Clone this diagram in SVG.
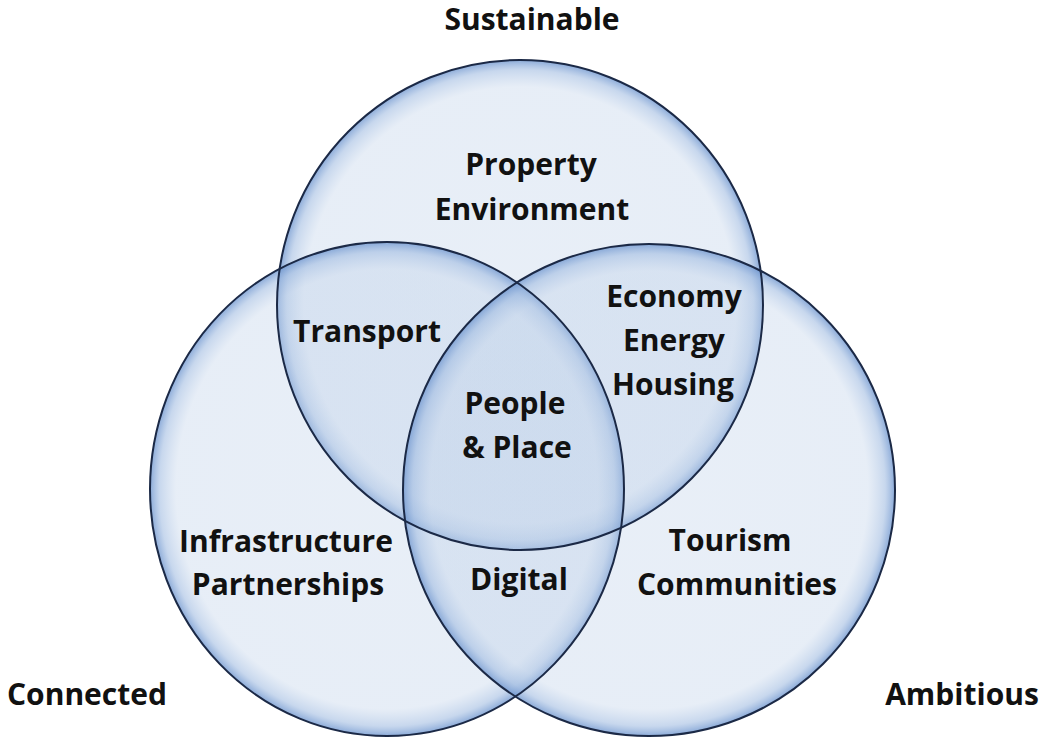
<svg xmlns="http://www.w3.org/2000/svg" width="1046" height="738" viewBox="0 0 1046 738">
  <defs>
    <radialGradient id="glow" cx="50%" cy="50%" r="50%">
      <stop offset="0" stop-color="#bccfe8" stop-opacity="0.34"/>
      <stop offset="0.89" stop-color="#bccfe8" stop-opacity="0.36"/>
      <stop offset="0.96" stop-color="#9ab7df" stop-opacity="0.55"/>
      <stop offset="1" stop-color="#6f96cf" stop-opacity="0.8"/>
    </radialGradient>
    <style>
      .fill { fill: url(#glow); stroke: none; }
      .ring { fill: none; stroke: #1b2946; stroke-width: 2; }
      text { font-family: "Open Sans", "Liberation Sans", sans-serif; font-weight: 700; font-size: 30px; fill: #111111; text-anchor: middle; }
    </style>
  </defs>
  <rect width="1046" height="738" fill="#ffffff"/>

  <g id="circle-sustainable">
    <ellipse class="fill" cx="520" cy="305" rx="243" ry="245"/>
  </g>
  <g id="circle-connected">
    <ellipse class="fill" cx="387" cy="489" rx="237" ry="247"/>
  </g>
  <g id="circle-ambitious">
    <ellipse class="fill" cx="649" cy="490" rx="246" ry="246"/>
  </g>

  <g id="outlines">
    <ellipse class="ring" cx="520" cy="305" rx="243" ry="245"/>
    <ellipse class="ring" cx="387" cy="489" rx="237" ry="247"/>
    <ellipse class="ring" cx="649" cy="490" rx="246" ry="246"/>
  </g>

  <g id="label-sustainable"><text x="532" y="30">Sustainable</text></g>
  <g id="label-connected"><text x="87" y="705">Connected</text></g>
  <g id="label-ambitious"><text x="962" y="705">Ambitious</text></g>

  <g id="region-property"><text x="531" y="175">Property</text><text x="532" y="220">Environment</text></g>
  <g id="region-transport"><text x="367" y="342">Transport</text></g>
  <g id="region-economy"><text x="674" y="307">Economy</text><text x="674" y="351">Energy</text><text x="673" y="395">Housing</text></g>
  <g id="region-people"><text x="515" y="414">People</text><text x="517" y="458">&amp; Place</text></g>
  <g id="region-infrastructure"><text x="286" y="552">Infrastructure</text><text x="288" y="595">Partnerships</text></g>
  <g id="region-digital"><text x="519" y="590">Digital</text></g>
  <g id="region-tourism"><text x="730" y="551">Tourism</text><text x="737" y="595">Communities</text></g>
</svg>
